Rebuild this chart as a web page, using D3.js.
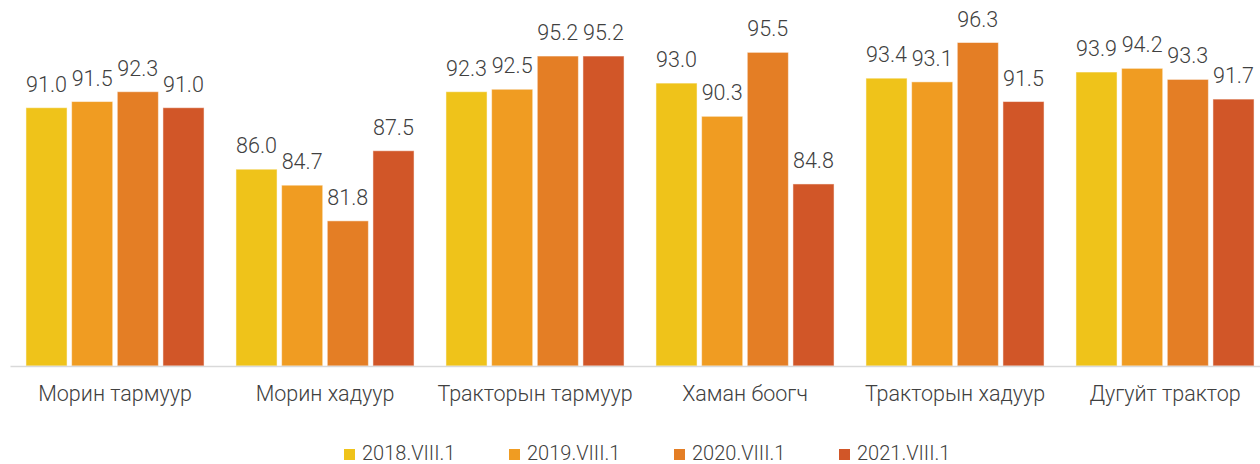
<!DOCTYPE html>
<html lang="mn">
  <head>
    <meta charset="utf-8">
    <title>Bar chart</title>
    <script src="https://d3js.org/d3.v7.min.js"></script>
    <style>
      body { margin: 0; background: #fff; }
      text { font-family: Roboto, "Noto Sans", sans-serif; }
    </style>
  </head>
  <body>
    <svg id="chart"></svg>
    <script>
      // data
      const categories = ["Морин тармуур", "Морин хадуур", "Тракторын тармуур", "Хаман боогч", "Тракторын хадуур", "Дугуйт трактор"];
      const seriesNames = ["2018.VIII.1", "2019.VIII.1", "2020.VIII.1", "2021.VIII.1"];
      const v2018 = [91.0, 86.0, 92.3, 93.0, 93.4, 93.9];
      const v2019 = [91.5, 84.7, 92.5, 90.3, 93.1, 94.2];
      const v2020 = [92.3, 81.8, 95.2, 95.5, 96.3, 93.3];
      const v2021 = [91.0, 87.5, 95.2, 84.8, 91.5, 91.7];
      const colors = ["#EFC31A", "#F09C22", "#E47E25", "#D15628"];

      const series = [v2018, v2019, v2020, v2021];

      let width = 1260, height = 464;
      let baseY = 366;

      let svg = d3.select("#chart")
                  .attr("width", width)
                  .attr("height", height);

      let x0 = d3.scaleBand()
                 .domain(categories)
                 .range([10, 1270])
                 .paddingInner(0.152)
                 .paddingOuter(0.076);

      let x1 = d3.scaleBand()
                 .domain(seriesNames)
                 .range([0, x0.bandwidth()])
                 .paddingInner(0.1);

      let y = d3.scaleLinear()
                .domain([70, 100])
                .range([baseY, baseY - 30 * 12.3]);

      let color = d3.scaleOrdinal().domain(seriesNames).range(colors);

      // bars
      let groups = svg.selectAll("g.grp")
                      .data(categories)
                      .enter()
                      .append("g")
                      .attr("class", "grp")
                      .attr("transform", d => "translate(" + x0(d) + ",0)");

      let cells = groups.selectAll("g.cell")
                        .data((c, i) => seriesNames.map((s, j) => ({ s: s, v: series[j][i] })))
                        .enter()
                        .append("g")
                        .attr("class", "cell");

      cells.append("rect")
           .attr("x", d => x1(d.s))
           .attr("y", d => y(d.v))
           .attr("width", x1.bandwidth())
           .attr("height", d => baseY - y(d.v))
           .attr("fill", d => color(d.s))
           .attr("stroke", "#fff")
           .attr("stroke-opacity", 0.5)
           .attr("stroke-width", 1);

      cells.append("text")
           .attr("x", d => x1(d.s) + x1.bandwidth() / 2)
           .attr("y", d => y(d.v) - 16)
           .attr("text-anchor", "middle")
           .attr("font-size", 21.5)
           .attr("font-weight", 300)
           .attr("fill", "#404040")
           .text(d => d.v.toFixed(1));

      // x axis
      let xAxis = d3.axisBottom(x0).tickSize(0).tickPadding(20);
      let gx = svg.append("g")
                  .attr("transform", "translate(0," + baseY + ")")
                  .call(xAxis);
      gx.select(".domain").attr("stroke", "#d9d9d9").attr("stroke-width", 1.3);
      gx.selectAll("text")
        .attr("font-size", 21.5)
        .attr("font-weight", 300)
        .attr("fill", "#404040")
        .attr("font-family", "Roboto, sans-serif");

      // legend
      let legend = svg.append("g")
                      .selectAll("g")
                      .data(seriesNames)
                      .enter()
                      .append("g")
                      .attr("transform", (d, i) => "translate(" + (344 + i * 165) + ",449)");

      legend.append("rect")
            .attr("width", 11)
            .attr("height", 11)
            .attr("fill", d => color(d));

      legend.append("text")
            .attr("x", 18)
            .attr("y", 10.5)
            .attr("font-size", 20)
            .attr("font-weight", 300)
            .attr("fill", "#404040")
            .text(d => d);
    </script>
  </body>
</html>
